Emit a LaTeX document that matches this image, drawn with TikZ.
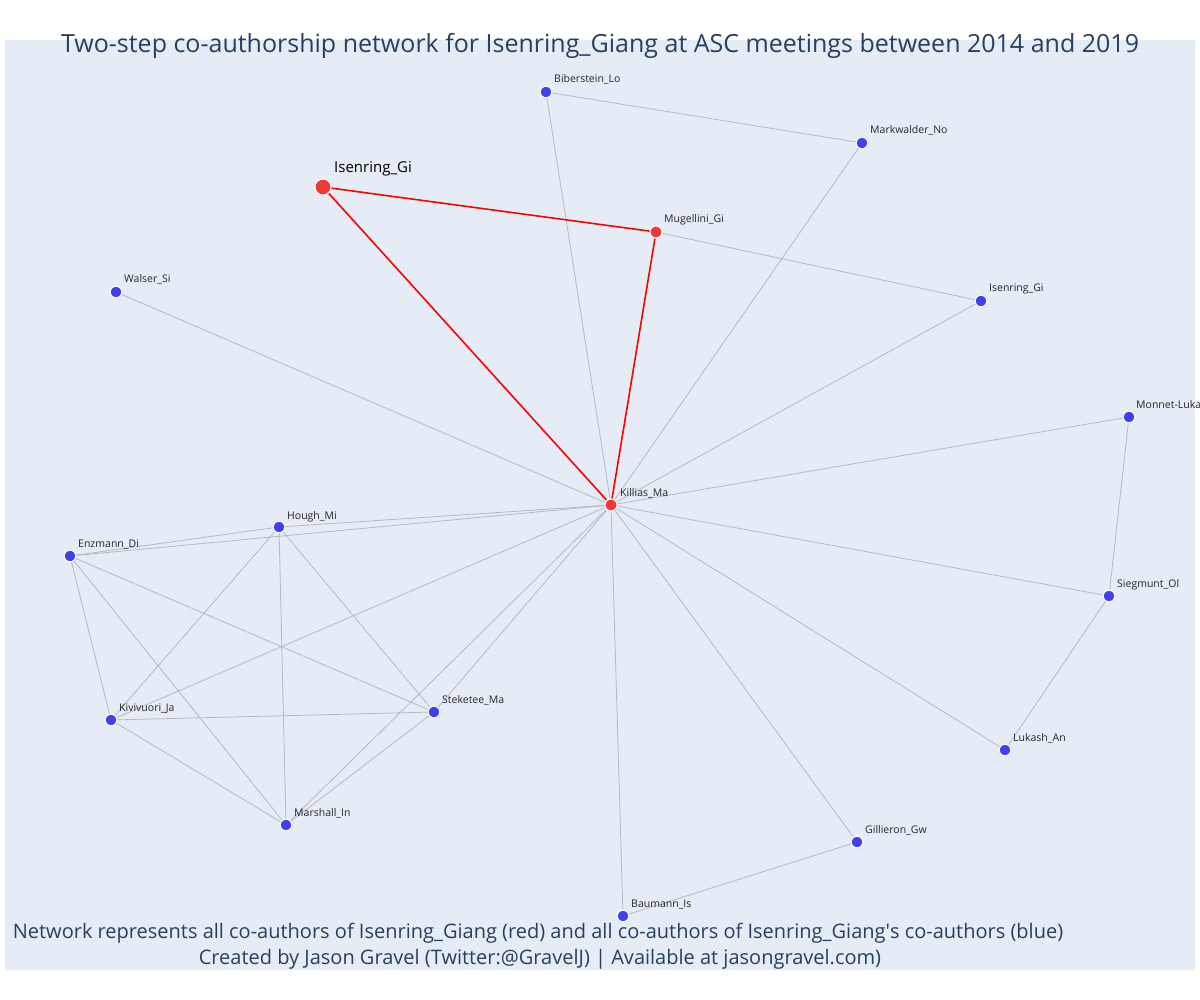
\documentclass[tikz,border=0pt]{standalone}
\usepackage{fontspec}
\setmainfont{Open Sans}
\definecolor{plotbg}{HTML}{E5ECF6}
\definecolor{titlec}{HTML}{2A3F5F}
\definecolor{nblue}{RGB}{64,64,240}
\definecolor{nred}{RGB}{240,56,56}
\definecolor{egrey}{RGB}{182,184,196}
\pgfdeclarelayer{bglayer}
\pgfdeclarelayer{edgelayer}
\pgfsetlayers{bglayer,edgelayer,main}
\tikzset{
  bnode/.style={circle,fill=nblue,draw=white,line width=1pt,minimum size=11.5pt,inner sep=0pt},
  rnode/.style={circle,fill=nred,draw=white,line width=1pt,minimum size=12pt,inner sep=0pt},
  bignode/.style={circle,fill=nred,draw=white,line width=1pt,minimum size=16pt,inner sep=0pt},
  lab/.style={anchor=base west,inner sep=0pt,font=\fontsize{10.5}{12}\selectfont,text=black!85},
  biglab/.style={anchor=base west,inner sep=0pt,font=\fontsize{15}{18}\selectfont,text=black},
  gedge/.style={draw=egrey,line width=0.8pt},
  redge/.style={draw=red,line width=1.6pt},
  titletext/.style={font=\fontsize{25}{30}\selectfont,text=titlec,inner sep=0pt,anchor=base},
  foottext/.style={font=\fontsize{20}{26}\selectfont,text=titlec,inner sep=0pt,anchor=base,align=center},
}
\begin{document}
\begin{tikzpicture}[x=1pt,y=-1pt]
\useasboundingbox (0,0) rectangle (1200,1000);
\begin{pgfonlayer}{bglayer}
\fill[plotbg] (5,40) rectangle (1195,970);
\end{pgfonlayer}
% nodes
\node[bignode] (isb) at (323,187) {};
\node[rnode] (mug) at (656,232) {};
\node[rnode] (kil) at (611,505) {};
\node[bnode] (bib) at (546,92) {};
\node[bnode] (mar) at (862,143) {};
\node[bnode] (iss) at (981,301) {};
\node[bnode] (wal) at (116,292) {};
\node[bnode] (mon) at (1129,417) {};
\node[bnode] (sie) at (1109,596) {};
\node[bnode] (luk) at (1005,750) {};
\node[bnode] (gil) at (857,842) {};
\node[bnode] (bau) at (623,916) {};
\node[bnode] (hou) at (279,527) {};
\node[bnode] (enz) at (70,556) {};
\node[bnode] (kiv) at (111,720) {};
\node[bnode] (ste) at (434,712) {};
\node[bnode] (msh) at (286,825) {};
% labels
\node[biglab] (lisb) at (334,173) {Isenring\_Gi};
\node[lab] (lmug) at (664,223) {Mugellini\_Gi};
\node[lab] (lkil) at (620,496) {Killias\_Ma};
\node[lab] (lbib) at (554,83) {Biberstein\_Lo};
\node[lab] (lmar) at (870,134) {Markwalder\_No};
\node[lab] (liss) at (989,292) {Isenring\_Gi};
\node[lab] (lwal) at (124,283) {Walser\_Si};
\node[lab] (lmon) at (1136,408) {Monnet-Luka};
\node[lab] (lsie) at (1117,587) {Siegmunt\_Ol};
\node[lab] (lluk) at (1013,741) {Lukash\_An};
\node[lab] (lgil) at (865,833) {Gillieron\_Gw};
\node[lab] (lbau) at (631,907) {Baumann\_Is};
\node[lab] (lhou) at (287,519) {Hough\_Mi};
\node[lab] (lenz) at (78,547) {Enzmann\_Di};
\node[lab] (lkiv) at (119,711) {Kivivuori\_Ja};
\node[lab] (lste) at (442,703) {Steketee\_Ma};
\node[lab] (lmsh) at (294,816) {Marshall\_In};
% edges
\begin{pgfonlayer}{edgelayer}
\draw[gedge] (bib) -- (mar);
\draw[gedge] (bib) -- (kil);
\draw[gedge] (mar) -- (kil);
\draw[gedge] (mug) -- (iss);
\draw[gedge] (iss) -- (kil);
\draw[gedge] (wal) -- (kil);
\draw[gedge] (mon) -- (kil);
\draw[gedge] (mon) -- (sie);
\draw[gedge] (sie) -- (kil);
\draw[gedge] (sie) -- (luk);
\draw[gedge] (luk) -- (kil);
\draw[gedge] (gil) -- (kil);
\draw[gedge] (gil) -- (bau);
\draw[gedge] (bau) -- (kil);
\draw[gedge] (hou) -- (kil);
\draw[gedge] (enz) -- (kil);
\draw[gedge] (enz) -- (hou);
\draw[gedge] (enz) -- (kiv);
\draw[gedge] (enz) -- (msh);
\draw[gedge] (enz) -- (ste);
\draw[gedge] (hou) -- (kiv);
\draw[gedge] (hou) -- (msh);
\draw[gedge] (hou) -- (ste);
\draw[gedge] (kiv) -- (ste);
\draw[gedge] (kiv) -- (msh);
\draw[gedge] (kiv) -- (kil);
\draw[gedge] (ste) -- (msh);
\draw[gedge] (ste) -- (kil);
\draw[gedge] (msh) -- (kil);
\draw[redge] (isb) -- (mug);
\draw[redge] (isb) -- (kil);
\draw[redge] (mug) -- (kil);
\end{pgfonlayer}
% texts
\node[titletext] (title) at (600,53) {Two-step co-authorship network for Isenring\_Giang at ASC meetings between 2014 and 2019};
\node[foottext] (foot1) at (538,938) {Network represents all co-authors of Isenring\_Giang (red) and all co-authors of Isenring\_Giang\textquotesingle s co-authors (blue)};
\node[foottext] (foot2) at (540,964) {Created by Jason Gravel (Twitter:@GravelJ) | Available at jasongravel.com)};
\end{tikzpicture}
\end{document}
